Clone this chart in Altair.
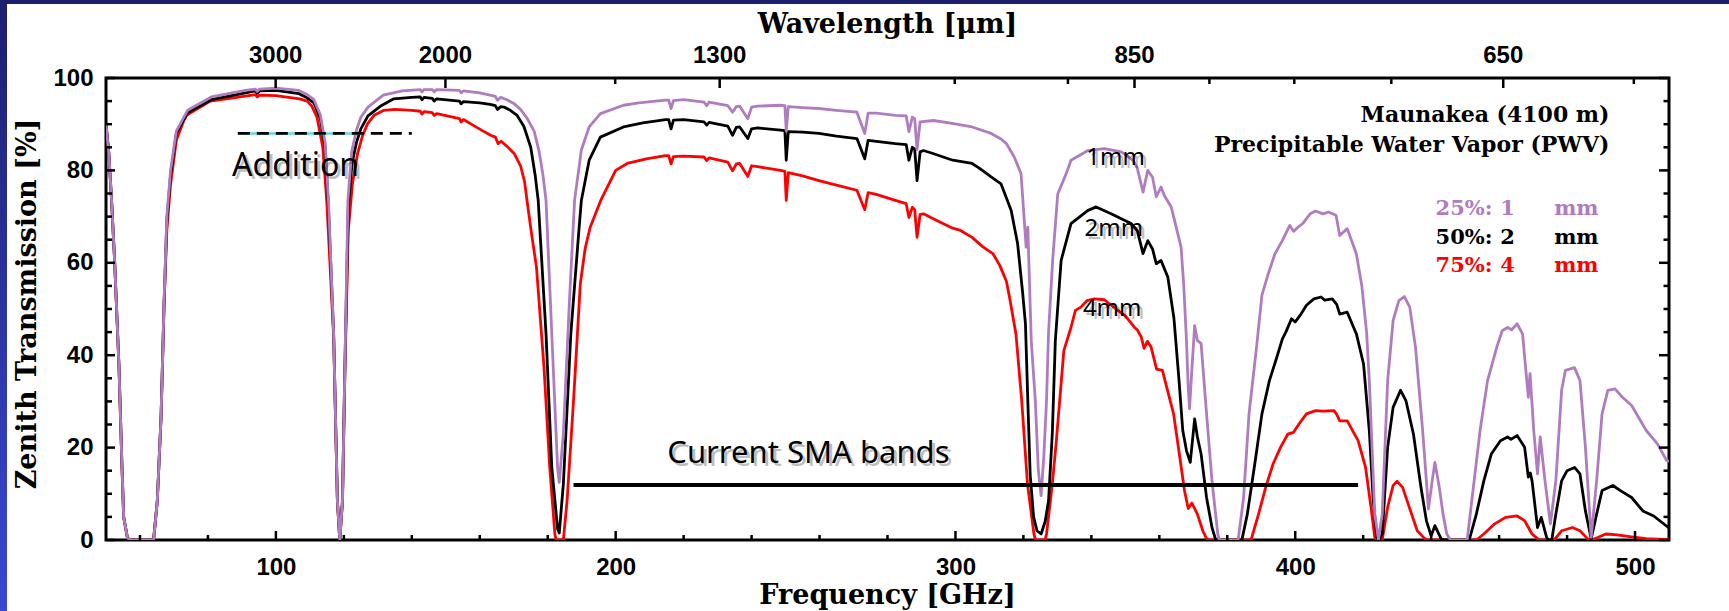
import altair as alt
import pandas as pd

# ---------------- data ----------------
# shared O2 wing at the low-frequency edge (identical for all PWV)
o2_wing = [(50.0, 90), (50.8, 84), (51.6, 74), (52.5, 61), (53.8, 38), (54.7, 16),
           (55.2, 5), (56.3, 0.5), (57.0, 0), (64.0, 0)]

pwv_1mm = [(65.1, 8.5), (66.2, 26.6), (67.1, 51.8), (67.9, 70), (69.0, 80), (70.7, 88.5), (74.0, 93),
    (81.0, 95.9), (91.0, 97.3), (94.0, 97.6), (94.5, 97.1), (95.2, 97.6), (100.0, 97.8), (106.8, 97.3),
    (109.0, 96.5), (111.2, 95.3), (113.1, 92), (114.5, 86), (115.5, 73), (117.0, 44.6), (118.1, 8.5),
    (118.8, 0), (119.6, 8.5), (120.3, 37.4), (121.2, 73.5), (122.3, 84), (123.7, 88.7), (125.0, 91.5),
    (127.1, 93.7), (131.6, 96.3), (137.2, 97.2), (142.5, 97.5), (143.0, 97.0), (143.6, 97.5), (146.0, 97.5),
    (146.6, 97.0), (147.3, 97.5), (154.0, 97.3), (154.5, 96.8), (155.2, 97.2), (160.0, 96.8), (163.0, 96.3),
    (164.6, 96.0), (165.2, 95.2), (166.2, 95.8), (168.0, 95.3), (170.0, 94.5), (172.0, 93.2), (174.0, 91.2),
    (176.0, 88.5), (177.5, 84), (178.6, 79), (179.5, 73.5), (181.2, 44.6), (182.9, 15.7), (183.4, 12.5),
    (184.6, 23), (186.4, 51.8), (187.9, 73.5), (189.9, 84.4), (192.2, 89.4), (195.5, 92.3), (202.3, 94.1),
    (206.8, 94.6), (214.7, 95.2), (215.6, 95.2), (216.3, 93.4), (217.0, 95.1), (220.0, 95.3), (226.0, 94.8),
    (226.8, 94.0), (227.5, 94.8), (233.0, 94.0), (234.4, 92.6), (235.5, 93.8), (236.5, 93.9), (238.9, 91.2),
    (240.0, 93.7), (241.8, 93.9), (248.5, 94.1), (249.8, 94.0), (250.2, 88.5), (250.8, 93.8), (255.0, 93.6),
    (259.8, 93.4), (265.0, 93.0), (271.0, 92.6), (273.3, 88.0), (274.3, 92.4), (276.7, 92.4), (282.3, 91.9),
    (285.5, 91.8), (286.3, 88.4), (287.3, 91.5), (288.0, 91.2), (288.7, 84.5), (289.6, 90.5), (293.6, 90.8),
    (299.0, 90.2), (304.9, 89.4), (310.5, 88.0), (313.4, 86.8), (315.0, 85.8), (317.3, 82.9), (319.3, 79.3),
    (320.8, 63.4), (321.3, 67.7), (322.3, 43.2), (323.5, 30.2), (324.4, 15), (325.2, 9.6), (326.0, 18),
    (326.8, 30.2), (327.4, 45), (328.6, 60.5), (330.1, 74.9), (332.6, 79.3), (334.0, 82.2), (339.0, 84.3),
    (343.8, 84.7), (348.8, 84.0), (352.2, 82.2), (353.5, 80.5), (355.2, 75.3), (356.6, 80.0), (358.0, 78.5),
    (359.1, 74.3), (360.5, 76.4), (361.5, 74.5), (363.5, 72.1), (366.4, 63.4), (367.2, 55), (368.0, 43),
    (368.5, 33), (368.9, 28.4), (369.5, 36), (370.4, 46.4), (371.2, 43.2), (372.3, 42.5), (373.9, 27.3),
    (375.5, 12.8), (377.2, 1.3), (377.7, 0), (383.2, 0), (384.8, 9.2), (386.4, 27.3), (388.6, 41.7),
    (390.2, 53), (392.0, 57.5), (394.0, 61.9), (396.2, 64.8), (398.4, 68.1), (399.5, 66.8), (400.5, 67.5),
    (402.2, 68.5), (404.4, 70.6), (406.0, 71.2), (408.2, 70.6), (409.8, 71.0), (412.0, 70.3), (413.1, 65.9),
    (415.3, 67.4), (418.0, 61.9), (419.6, 55), (421.0, 45), (421.8, 34.5), (423.4, 5.6), (424.5, 0),
    (425.6, 5.6), (427.2, 34.5), (428.8, 47.5), (430.5, 51.8), (432.1, 52.7), (433.7, 50.4), (435.4, 41.7),
    (437.5, 23.7), (438.6, 12.8), (439.2, 6.7), (440.3, 12.8), (441.1, 16.8), (442.4, 11.4), (443.5, 5.6),
    (444.6, 1.3), (445.7, 0), (450.6, 0), (452.2, 10), (454.4, 23.7), (456.6, 34.5), (459.3, 41.7),
    (460.9, 45.3), (462.5, 46.0), (463.7, 45.5), (465.3, 46.8), (466.9, 44.6), (467.7, 38.1), (468.6, 30.9),
    (469.1, 36), (470.2, 23.7), (471.3, 14.3), (472.1, 22.3), (473.5, 12.8), (475.1, 3.5), (476.7, 12.8),
    (478.4, 32.4), (479.5, 36.7), (482.2, 37.3), (483.8, 34.5), (485.4, 20.1), (487.1, 0.6), (488.7, 12.8),
    (490.3, 27.3), (492.0, 32.4), (494.1, 32.7), (496.3, 30.9), (499.0, 29.1), (503.3, 23.7), (506.6, 20.8),
    (509.3, 17.2), (510.0, 17.0)]

pwv_2mm = [(65.1, 8.5), (66.2, 26.6), (67.1, 51.5), (67.9, 69), (69.0, 79), (70.7, 88.0), (74.0, 92.5),
    (81.0, 95.3), (91.0, 96.8), (94.0, 97.2), (94.5, 96.7), (95.2, 97.2), (100.0, 97.3), (106.8, 96.6),
    (109.0, 95.8), (111.2, 94.6), (113.1, 91.2), (114.5, 85), (115.4, 73), (117.0, 44.6), (118.1, 8.5),
    (118.8, 0), (119.6, 8.5), (120.3, 37.4), (121.3, 72), (122.4, 81.5), (123.7, 86), (125.0, 89),
    (127.1, 91.8), (131.0, 94), (134.7, 95.5), (140.0, 95.8), (142.5, 95.9), (143.0, 95.3), (143.6, 95.8),
    (146.0, 95.6), (146.6, 95.0), (147.3, 95.5), (154.0, 95.0), (154.5, 94.4), (155.2, 94.9), (160.0, 94.6),
    (163.0, 94.3), (164.6, 94.0), (165.2, 93.2), (166.2, 93.8), (167.1, 93.7), (169.0, 93.0), (171.0, 91.9),
    (173.0, 89.5), (175.0, 85), (176.3, 79), (177.2, 73.5), (179.5, 44.6), (181.2, 15.7), (182.9, 2.4),
    (183.4, 1.5), (184.6, 12.1), (186.8, 44.6), (189.1, 66.3), (189.9, 73.5), (192.2, 82.2), (195.5, 87.2),
    (202.3, 89.4), (208.0, 90.3), (214.7, 91.0), (215.6, 91.0), (216.3, 89.0), (217.0, 90.9), (220.0, 91.0),
    (226.0, 90.5), (226.8, 89.8), (227.5, 90.4), (233.0, 89.6), (234.4, 87.6), (235.5, 89.3), (236.5, 89.4),
    (238.9, 86.9), (240.0, 89.0), (241.8, 89.2), (248.5, 88.7), (249.8, 88.6), (250.2, 82.2), (250.8, 88.4),
    (255.0, 88.3), (259.8, 88.0), (265.0, 87.4), (271.0, 86.9), (273.3, 82.5), (274.3, 86.5), (276.7, 86.3),
    (282.3, 85.8), (285.5, 85.6), (286.3, 82.2), (287.3, 85.0), (288.0, 84.6), (288.7, 77.8), (289.6, 84.0),
    (290.6, 84.3), (293.6, 83.6), (299.2, 82.2), (304.9, 81.5), (307.0, 80.5), (310.5, 78.6), (313.4, 77.1),
    (316.4, 71.3), (318.3, 64.1), (319.8, 53.3), (320.6, 46.8), (321.3, 30), (322.0, 14), (323.0, 5),
    (324.0, 2), (325.2, 1.3), (326.4, 4), (327.4, 8.5), (328.5, 23), (329.4, 43.2), (331.1, 60.5),
    (334.0, 68.5), (338.9, 71.3), (341.4, 72.1), (345.8, 70.6), (351.7, 68.5), (353.5, 67), (355.2, 62),
    (356.6, 64.8), (358.0, 63), (359.1, 59.8), (360.5, 60.5), (362.5, 56.9), (364.3, 48), (365.8, 34.5),
    (366.9, 23.7), (368.0, 19.3), (369.1, 16.8), (370.4, 26.2), (371.2, 22.3), (372.3, 18.6), (373.9, 9.2),
    (375.5, 2.7), (376.6, 0), (384.3, 0), (385.9, 5.6), (388.1, 16.5), (390.2, 27.3), (392.4, 34.5),
    (394.6, 39.6), (396.2, 43.5), (397.3, 45.1), (398.9, 47.9), (400.0, 47.2), (401.7, 48.9), (403.3, 50.8),
    (405.5, 52.2), (407.6, 52.6), (408.7, 51.9), (410.9, 52.2), (412.2, 51.0), (413.1, 48.9), (415.3, 49.3),
    (418.0, 44.6), (420.1, 38.1), (421.8, 23.7), (422.9, 9.2), (424.0, 0.6), (424.6, 0), (425.6, 1.3),
    (427.2, 20.1), (428.8, 28.7), (431.0, 32.4), (432.6, 30.1), (434.8, 22.9), (437.0, 11.4), (438.6, 4.2),
    (440.0, 0.9), (441.1, 3.1), (442.9, 0.3), (443.5, 0), (451.2, 0), (453.3, 5.6), (455.5, 12.8),
    (457.7, 18.6), (460.4, 21.5), (462.5, 22.3), (463.5, 21.8), (465.3, 22.6), (467.5, 20.1), (468.6, 13.6),
    (469.2, 14.5), (469.7, 12.8), (471.3, 2.7), (472.4, 4.9), (474.0, 0.5), (474.6, 0), (475.5, 0),
    (476.7, 5.6), (478.4, 12.8), (480.0, 15.0), (482.2, 15.7), (483.8, 14.3), (485.4, 6.3), (487.1, 0.3),
    (488.7, 5.6), (490.3, 10.7), (493.5, 11.8), (495.7, 10.7), (499.0, 9.2), (502.3, 6.3), (505.5, 5.2),
    (510.0, 2.6)]

pwv_4mm = [(65.1, 8.5), (66.2, 26.5), (67.1, 51), (67.9, 67), (69.0, 77), (70.7, 86.5), (72.9, 90.8),
    (73.8, 92), (80.7, 95), (91.0, 96.1), (94.0, 96.4), (94.5, 95.9), (95.2, 96.3), (100.0, 96.2),
    (107.0, 95.5), (109.2, 95), (110.5, 94), (112.1, 91.5), (113.8, 85), (115.0, 73), (117.0, 44),
    (118.1, 8.5), (118.8, 0), (119.6, 8.5), (120.3, 36), (121.3, 67), (122.5, 77), (124.0, 83.5),
    (125.5, 87.5), (126.9, 90), (129.0, 92), (131.8, 93), (135.0, 93.2), (140.0, 93), (142.5, 92.8),
    (143.0, 92.2), (143.6, 92.7), (146.0, 92.5), (146.6, 91.9), (147.3, 92.3), (152.4, 91.5), (154.0, 91.2),
    (154.5, 90.5), (155.2, 91), (158.0, 89.8), (161.0, 88.5), (163.2, 87.6), (164.6, 87.2), (165.4, 85.8),
    (166.3, 86.3), (168.0, 85.2), (170.2, 83.6), (172.0, 81), (173.2, 77.5), (173.9, 73.5), (175.3, 66),
    (176.7, 59), (178.9, 37.4), (180.6, 15.7), (182.1, 1.3), (182.5, 0), (184.6, 0), (185.7, 8.5),
    (187.6, 30.2), (189.6, 55.5), (191.0, 63), (192.5, 67.7), (195.6, 73.5), (200.0, 80), (203.4, 81.5),
    (209.0, 82.5), (214.7, 83.2), (215.6, 83.2), (216.3, 81.4), (217.0, 83.0), (220.0, 83.1), (226.0, 82.9),
    (226.8, 82.1), (227.5, 82.7), (233.0, 81.8), (234.4, 79.9), (235.5, 81.4), (236.5, 81.5), (238.9, 78.7),
    (240.0, 81.0), (241.8, 80.8), (248.5, 80.0), (249.8, 79.8), (250.2, 73.5), (250.8, 79.5), (255.0, 78.8),
    (259.8, 77.8), (265.0, 76.8), (271.0, 75.7), (273.3, 71.5), (274.3, 75.2), (276.7, 74.8), (282.3, 73.5),
    (285.5, 72.8), (286.3, 69.8), (287.3, 72.0), (288.0, 71.5), (288.7, 65.5), (289.6, 70.5), (290.6, 70.6),
    (293.6, 69.5), (299.2, 67.5), (301.5, 67.0), (304.9, 65.5), (308.0, 63.5), (311.0, 62.0), (313.0, 59.5),
    (315.0, 56.0), (316.1, 51.8), (317.8, 44.6), (319.5, 30.2), (321.2, 12.1), (323.1, 1.3), (323.6, 0),
    (326.4, 0), (326.8, 1.3), (328.5, 12.1), (329.7, 21.5), (331.9, 41), (334.0, 46), (335.3, 49.7),
    (336.9, 50.4), (338.7, 51.8), (340.9, 52.2), (343.8, 52.0), (347.8, 49.7), (350.0, 48.5), (352.7, 46.0),
    (353.5, 45.5), (354.7, 43.9), (355.5, 41.5), (356.5, 43.0), (357.6, 41.7), (359.2, 37.0), (360.9, 36.7),
    (364.2, 27.3), (366.3, 16.5), (367.4, 10.7), (368.5, 6.8), (369.6, 8.0), (371.2, 5.6), (372.8, 2.0),
    (373.9, 0.3), (374.5, 0), (387.0, 0), (389.2, 5.6), (391.3, 11.4), (393.5, 16.5), (395.7, 20.1),
    (397.8, 22.9), (399.5, 23.3), (401.1, 25.1), (403.3, 27.3), (406.0, 28.0), (408.2, 27.9), (411.4, 28.0),
    (412.2, 27.2), (413.1, 25.8), (415.3, 25.8), (418.5, 21.5), (420.7, 15.7), (422.3, 7.1), (423.4, 0.6),
    (424.0, 0), (425.6, 0), (427.2, 7.1), (428.8, 11.8), (430.0, 12.7), (431.6, 11.4), (433.7, 6.8),
    (435.9, 2.0), (438.1, 0.3), (439.0, 0), (453.3, 0), (455.5, 1.3), (458.7, 3.5), (461.9, 4.9),
    (465.3, 5.2), (467.5, 4.2), (469.7, 1.3), (471.3, 0.3), (472.0, 0), (476.2, 0), (478.4, 2.0),
    (481.6, 2.7), (483.8, 2.0), (486.0, 0.3), (487.1, 0), (489.2, 0.6), (491.4, 1.3), (494.7, 1.1),
    (499.0, 0.7), (503.3, 0.3), (510.0, 0.1)]

# axis ticks
freq_major = [100, 200, 300, 400, 500]
freq_minor = [60, 80, 120, 140, 160, 180, 220, 240, 260, 280, 320, 340, 360, 380,
              420, 440, 460, 480]
wl_major = [3000, 2000, 1300, 850, 650]
wl_minor = [1500, 1000, 900, 800, 750, 700, 600]
trans_major = [0, 20, 40, 60, 80, 100]
trans_minor = [5, 10, 15, 25, 30, 35, 45, 50, 55, 65, 70, 75, 85, 90, 95]

# annotations
addition_span = [88.8, 140.0]
addition_cyan_span = [88.8, 124.8]
addition_level = 88.0
sma_span = [187.6, 418.5]
sma_level = 11.9

comic_text = ["Addition", "Current SMA bands", "1mm", "2mm", "4mm"]
comic_freq = [87.1, 215.2, 338.5, 338.0, 337.5]
comic_trans = [78.8, 16.7, 81.1, 65.7, 48.4]
comic_size = [32, 31, 24, 24, 24]

site_text = ["Maunakea (4100 m)", "Precipitable Water Vapor (PWV)"]
site_freq = [492.5, 492.5]
site_trans = [90.4, 84.0]

legend_pct = ["25%:", "50%:", "75%:"]
legend_val = ["1", "2", "4"]
legend_unit = ["mm", "mm", "mm"]
legend_trans = [70.3, 64.1, 58.0]
legend_color = ["#b07cc0", "#000000", "#ff0000"]
legend_cols = [441.3, 460.3, 476.2]

# ---------------- chart ----------------
W, H = 1563, 462
PURPLE, BLACK, RED = "#b07cc0", "#000000", "#ff0000"
SERIF = "DejaVu Serif"
COMIC = "Noto Sans"

xs = alt.Scale(domain=[50, 510], nice=False, zero=False)
ys = alt.Scale(domain=[0, 100], nice=False, zero=False)

x_axis = alt.Axis(values=freq_major, ticks=False, domain=False, grid=False,
                  labelFont="Liberation Sans", labelFontWeight="bold", labelFontSize=24,
                  labelColor="black", labelBaseline="alphabetic", labelPadding=34,
                  title=None)
y_axis = alt.Axis(values=trans_major, ticks=False, domain=False, grid=False,
                  labelFont="Liberation Sans", labelFontWeight="bold", labelFontSize=24,
                  labelColor="black", labelPadding=13, title=None)


def X(field):
    return alt.X(field, scale=xs, axis=x_axis)


def Y(field):
    return alt.Y(field, scale=ys, axis=y_axis)


def curve_df(points):
    pts = o2_wing + points
    return pd.DataFrame({"freq": [p[0] for p in pts], "trans": [p[1] for p in pts]})


def curve(points, color):
    return alt.Chart(curve_df(points)).mark_line(
        color=color, strokeWidth=2.8, strokeJoin="round", clip=True
    ).encode(x=X("freq:Q"), y=Y("trans:Q"))


one = pd.DataFrame({"k": [0]})

# decorative slide border
top_strip = alt.Chart(one).mark_rect(color="#1c1f6e").encode(
    x=alt.value(-106), x2=alt.value(W + 60), y=alt.value(-78), y2=alt.value(-74))
left_strip = alt.Chart(one).mark_rect(
    color=alt.LinearGradient(gradient="linear",
                             stops=[alt.GradientStop(color="#1c1f6e", offset=0),
                                    alt.GradientStop(color="#3a48d2", offset=1)],
                             x1=0, x2=0, y1=0, y2=1)
).encode(x=alt.value(-106), x2=alt.value(-99), y=alt.value(-78), y2=alt.value(H + 71))


# tick marks (pointing inward)
def hticks(values, length):
    return alt.Chart(pd.DataFrame({"freq": values})).mark_rule(color="black", strokeWidth=2.5).encode(
        x=X("freq:Q"), y=alt.value(H), y2=alt.value(H - length))


def wl_ticks(values, length):
    return alt.Chart(pd.DataFrame({"wl": values})).transform_calculate(
        freq="299792.458 / datum.wl"
    ).mark_rule(color="black", strokeWidth=2.5).encode(
        x=X("freq:Q"), y=alt.value(0), y2=alt.value(length))


def vticks(values, length, right=False):
    df = pd.DataFrame({"trans": values})
    if right:
        return alt.Chart(df).mark_rule(color="black", strokeWidth=2.5).encode(
            y=Y("trans:Q"), x=alt.value(W), x2=alt.value(W - length))
    return alt.Chart(df).mark_rule(color="black", strokeWidth=2.5).encode(
        y=Y("trans:Q"), x=alt.value(0), x2=alt.value(length))


ticks = [hticks(freq_major, 9), hticks(freq_minor, 5),
         wl_ticks(wl_major, 10), wl_ticks(wl_minor, 6),
         vticks(trans_major, 9), vticks(trans_minor, 6),
         vticks(trans_major, 10, right=True), vticks(trans_minor, 5.5, right=True)]

# top (wavelength) labels
wl_labels = alt.Chart(pd.DataFrame({"wl": wl_major})).transform_calculate(
    freq="299792.458 / datum.wl", lab="format(datum.wl, 'd')"
).mark_text(font="Liberation Sans", fontWeight="bold", fontSize=24, baseline="alphabetic",
            align="center", color="black").encode(
    x=X("freq:Q"), y=alt.value(-15), text="lab:N")

# axis titles
title_top = alt.Chart(one).mark_text(font=SERIF, fontWeight="bold", fontSize=27,
                                     baseline="alphabetic", align="center", color="black").encode(
    x=alt.value(W / 2), y=alt.value(-45), text=alt.value("Wavelength [\u03bcm]"))
title_bottom = alt.Chart(one).mark_text(font=SERIF, fontWeight="bold", fontSize=27,
                                        baseline="alphabetic", align="center", color="black").encode(
    x=alt.value(W / 2), y=alt.value(H + 64), text=alt.value("Frequency [GHz]"))
title_left = alt.Chart(one).mark_text(font=SERIF, fontWeight="bold", fontSize=27, angle=270,
                                      baseline="alphabetic", align="center", color="black").encode(
    x=alt.value(-70), y=alt.value(226), text=alt.value("Zenith Transmission [%]"))

# annotation lines
cyan_line = alt.Chart(pd.DataFrame({"freq": addition_cyan_span, "trans": [addition_level] * 2})
                      ).mark_line(color="#5fd8e0", strokeWidth=2.5).encode(
    x=X("freq:Q"), y=Y("trans:Q"))
dash_line = alt.Chart(pd.DataFrame({"freq": addition_span, "trans": [addition_level] * 2})
                      ).mark_line(color="black", strokeWidth=2.8, strokeDash=[12, 7]).encode(
    x=X("freq:Q"), y=Y("trans:Q"))
sma_line = alt.Chart(pd.DataFrame({"freq": sma_span, "trans": [sma_level] * 2})
                     ).mark_line(color="black", strokeWidth=4).encode(
    x=X("freq:Q"), y=Y("trans:Q"))

# comic-style annotations with a soft drop shadow
comic_df = pd.DataFrame({"text": comic_text, "freq": comic_freq, "trans": comic_trans,
                         "size": comic_size})


def comic_layer(dx, dy, opacity):
    return alt.Chart(comic_df).mark_text(font=COMIC, align="left", baseline="alphabetic",
                                         dx=dx, dy=dy, color="#000000", opacity=opacity).encode(
        x=X("freq:Q"), y=Y("trans:Q"), text="text:N",
        size=alt.Size("size:Q", scale=None, legend=None))


comic = [comic_layer(3, 3, 0.25), comic_layer(0, 0, 1.0)]

site = alt.Chart(pd.DataFrame({"text": site_text, "freq": site_freq, "trans": site_trans})
                 ).mark_text(font=SERIF, fontWeight="bold", fontSize=22, align="right",
                             baseline="alphabetic", color="black").encode(
    x=X("freq:Q"), y=Y("trans:Q"), text="text:N")

leg_df = pd.DataFrame({"pct": legend_pct, "val": legend_val, "unit": legend_unit,
                       "trans": legend_trans, "color": legend_color,
                       "c0": [legend_cols[0]] * 3, "c1": [legend_cols[1]] * 3,
                       "c2": [legend_cols[2]] * 3})


def leg_layer(col, field):
    return alt.Chart(leg_df).mark_text(font=SERIF, fontWeight="bold", fontSize=21, align="left",
                                       baseline="alphabetic").encode(
        x=X(f"{col}:Q"), y=Y("trans:Q"), text=f"{field}:N",
        color=alt.Color("color:N", scale=None, legend=None))


legend = [leg_layer("c0", "pct"), leg_layer("c1", "val"), leg_layer("c2", "unit")]

chart = alt.layer(
    curve(pwv_4mm, RED),
    top_strip, left_strip,
    curve(pwv_2mm, BLACK),
    curve(pwv_1mm, PURPLE),
    *ticks, wl_labels, title_top, title_bottom, title_left,
    cyan_line, dash_line, sma_line, *comic, site, *legend
).properties(
    width=W, height=H,
    padding={"left": 106, "top": 78, "right": 60, "bottom": 71},
    autosize=alt.AutoSizeParams(type="none"),
    background="white"
).configure_view(stroke="black", strokeWidth=3)

chart.save("out.html", embed_options={"renderer": "svg", "actions": False})
